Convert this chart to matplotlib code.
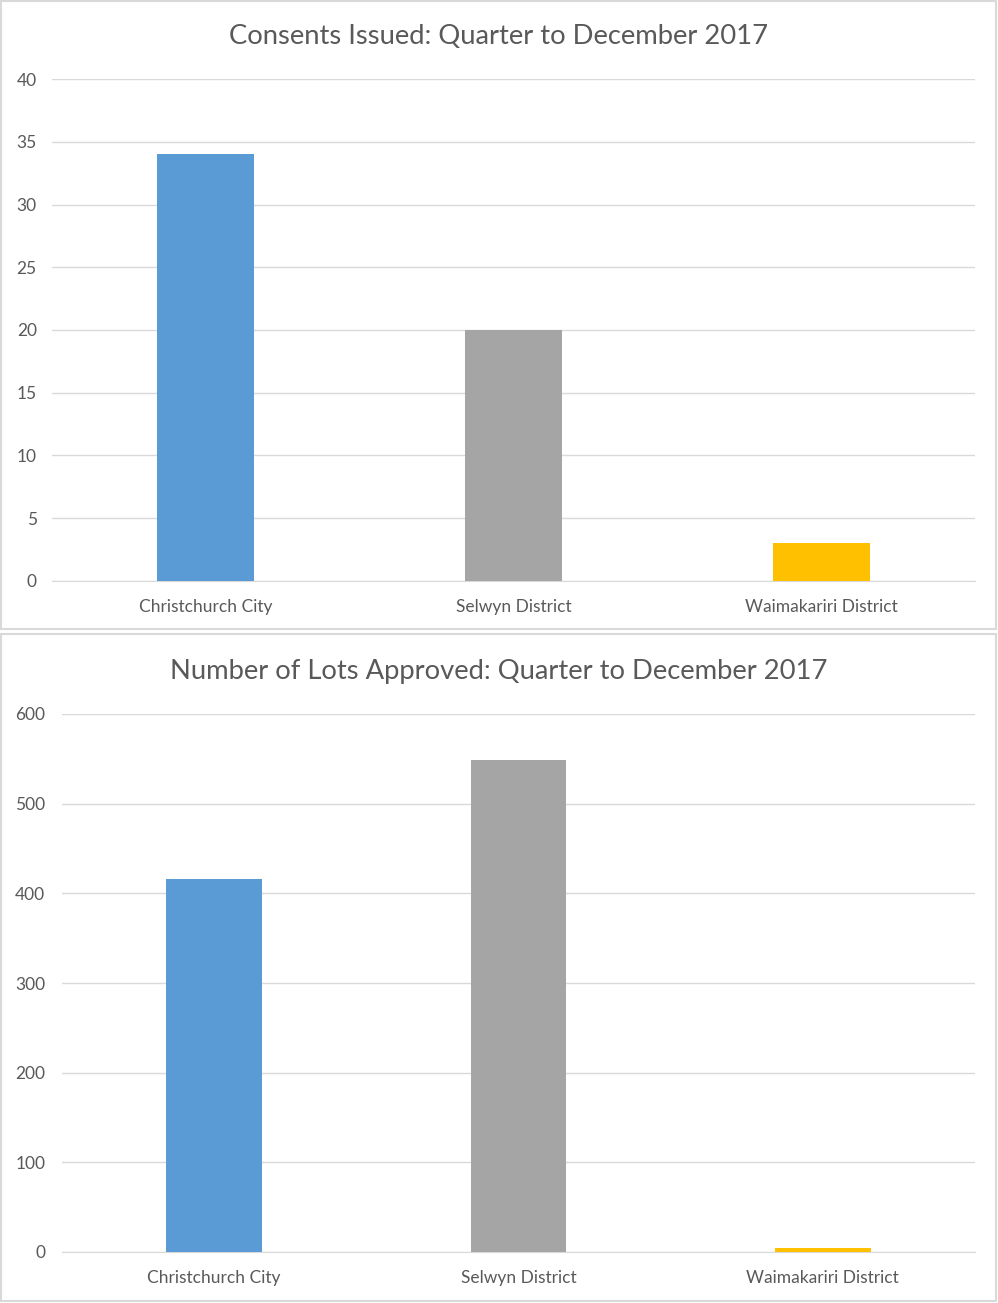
import matplotlib.pyplot as plt
from matplotlib.patches import Rectangle

plt.rcParams['font.family'] = ['Lato', 'DejaVu Sans']

districts = ['Christchurch City', 'Selwyn District', 'Waimakariri District']
consents = [34, 20, 3]
lots = [416, 549, 5]
colours = ['#5b9bd5', '#a5a5a5', '#ffc000']

W, H = 998, 1303
fig = plt.figure(figsize=(W / 100, H / 100), dpi=100)

# outer frames around each chart
for (x0, y0, x1, y1) in [(1, 1, 996, 629), (1, 634, 996, 1301)]:
    fig.add_artist(Rectangle((x0 / W, 1 - y1 / H), (x1 - x0) / W, (y1 - y0) / H,
                             transform=fig.transFigure, fill=False,
                             edgecolor='#d9d9d9', linewidth=1.5))


def draw(rect, values, ymax, step, title, title_y, ypad):
    left, top, right, bottom = rect
    ax = fig.add_axes([left / W, 1 - bottom / H, (right - left) / W, (bottom - top) / H])
    ax.bar(range(len(districts)), values, width=0.315, color=colours, zorder=3)
    ax.set_xlim(-0.5, 2.5)
    ax.set_ylim(0, ymax)
    ax.set_yticks(range(0, ymax + 1, step))
    ax.set_xticks(range(len(districts)))
    ax.set_xticklabels(districts)
    ax.grid(axis='y', color='#d9d9d9', linewidth=1, zorder=0)
    for s in ['top', 'right', 'left']:
        ax.spines[s].set_visible(False)
    ax.spines['bottom'].set_color('#d9d9d9')
    ax.tick_params(axis='both', length=0, labelsize=12.5, colors='#595959')
    ax.tick_params(axis='x', pad=13)
    ax.tick_params(axis='y', pad=ypad)
    fig.text(0.5, 1 - title_y / H, title, ha='center', va='center',
             fontsize=19.7, color='#595959')
    return ax


draw((52, 79, 975, 581), consents, 40, 5,
     'Consents Issued: Quarter to December 2017', 37, 11)
draw((62, 714, 975, 1252), lots, 600, 100,
     'Number of Lots Approved: Quarter to December 2017', 672, 12)

fig.savefig('out.png', dpi=100)
